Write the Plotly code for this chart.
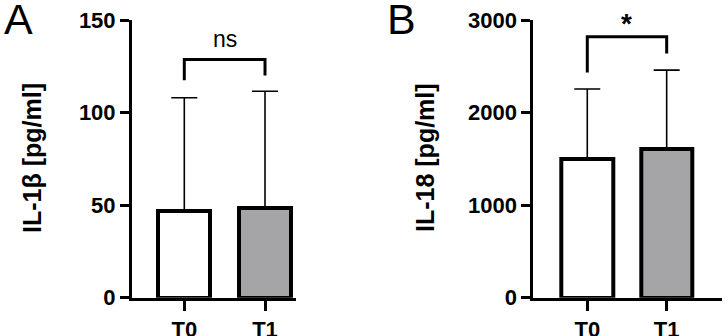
import plotly.graph_objects as go

groups = ["T0", "T1"]
il1b_mean = [47, 48.5]
il1b_sd = [61, 63]
il18_mean = [1495, 1606]
il18_sd = [759, 853]
bar_colors = ["#ffffff", "#a5a5a8"]
il1b_ticks = [0, 50, 100, 150]
il18_ticks = [0, 1000, 2000, 3000]

W, H = 726, 336
FONT = "Liberation Sans, Arial, sans-serif"

fig = go.Figure()

def px_x(p):
    return p / W

def px_y(p):
    return 1 - p / H

panels = [
    dict(mean=il1b_mean, sd=il1b_sd, ticks=il1b_ticks, xa="x", ya="y",
         xdom=[px_x(132), px_x(296)], xr=[-0.648, 1.384], width=0.64,
         title="IL-1β [pg/ml]", tx=32, letter="A", lx=18,
         br=[128.6, 117.5, 120.0], sig="ns", sigy=140, sigbold=False),
    dict(mean=il18_mean, sd=il18_sd, ticks=il18_ticks, xa="x2", ya="y2",
         xdom=[px_x(533.3), px_x(721.7)], xr=[-0.68, 1.693], width=0.65,
         title="IL-18 [pg/ml]", tx=425, letter="B", lx=401,
         br=[2819, 2434, 2639], sig="*", sigy=2960, sigbold=True),
]

ydom = [px_y(297.7), px_y(20)]

for i, p in enumerate(panels):
    fig.add_trace(go.Bar(
        x=groups, y=p["mean"], xaxis=p["xa"], yaxis=p["ya"],
        width=p["width"],
        marker=dict(color=bar_colors, line=dict(color="black", width=4)),
        error_y=dict(type="data", array=p["sd"], arrayminus=[0, 0], symmetric=False,
                     color="black", thickness=1.6, width=13),
        showlegend=False, hoverinfo="skip",
    ))
    suffix = "" if i == 0 else "2"
    fig.layout["xaxis" + suffix] = dict(
        domain=p["xdom"], range=p["xr"], type="category", anchor="y" + suffix,
        showline=True, linecolor="black", linewidth=3, ticks="outside",
        ticklen=10, tickwidth=3, tickcolor="black", showgrid=False, zeroline=False,
        tickfont=dict(family=FONT, size=22, color="black", weight="bold"),
        fixedrange=True, automargin=False, ticklabeloverflow="allow",
    )
    top = p["ticks"][-1]
    fig.layout["yaxis" + suffix] = dict(
        domain=ydom, range=[0, top], anchor="x" + suffix,
        tickvals=p["ticks"], showline=True, linecolor="black", linewidth=3,
        ticks="outside", ticklen=9, tickwidth=3, tickcolor="black",
        showgrid=False, zeroline=False,
        tickfont=dict(family=FONT, size=22, color="black", weight="bold"),
        fixedrange=True, automargin=False, ticklabeloverflow="allow",
    )
    fig.add_annotation(text=p["title"], textangle=-90, xref="paper", yref="paper",
                       x=px_x(p["tx"]), y=px_y(158), showarrow=False,
                       xanchor="center", yanchor="middle",
                       font=dict(family=FONT, size=25, color="black", weight="bold"))
    fig.add_annotation(text=p["letter"], xref="paper", yref="paper",
                       x=px_x(p["lx"]), y=px_y(19), showarrow=False,
                       xanchor="center", yanchor="middle",
                       font=dict(family=FONT, size=43, color="black"))
    top_y, left_y, right_y = p["br"]
    fig.add_trace(go.Scatter(
        x=[groups[0], groups[0], groups[1], groups[1]],
        y=[left_y, top_y, top_y, right_y],
        xaxis=p["xa"], yaxis=p["ya"], mode="lines",
        line=dict(color="black", width=3), showlegend=False, hoverinfo="skip",
    ))
    fig.add_annotation(text=p["sig"], xref=p["xa"], yref=p["ya"],
                       x=0.5, y=p["sigy"], showarrow=False,
                       xanchor="center", yanchor="middle",
                       font=dict(family=FONT, size=28 if p["sigbold"] else 23,
                                 color="black", weight="bold" if p["sigbold"] else "normal"))

fig.update_layout(
    width=W, height=H, margin=dict(l=0, r=0, t=0, b=0, autoexpand=False),
    paper_bgcolor="white", plot_bgcolor="white", bargap=0,
)

fig.write_html("out.html", config={"displayModeBar": False},
               post_script="document.body.style.margin='0px';")
